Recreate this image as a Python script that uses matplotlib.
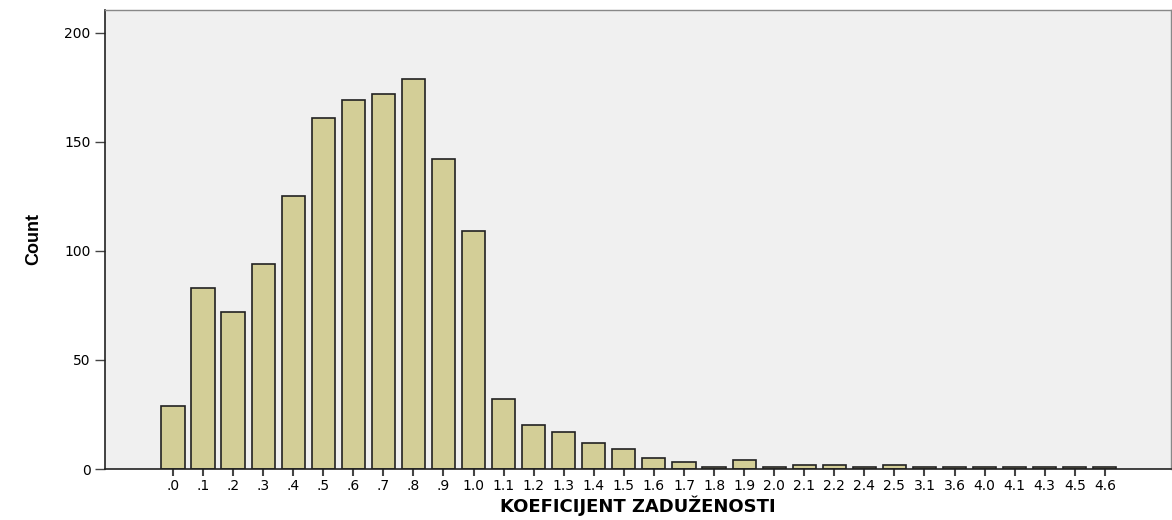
import matplotlib.pyplot as plt

labels = ['.0', '.1', '.2', '.3', '.4', '.5', '.6', '.7', '.8', '.9',
          '1.0', '1.1', '1.2', '1.3', '1.4', '1.5', '1.6', '1.7', '1.8', '1.9',
          '2.0', '2.1', '2.2', '2.4', '2.5', '3.1', '3.6', '4.0', '4.1', '4.3',
          '4.5', '4.6']
counts = [29, 83, 72, 94, 125, 161, 169, 172, 179, 142,
          109, 32, 20, 17, 12, 9, 5, 3, 1, 4,
          1, 2, 2, 1, 2, 1, 1, 1, 1, 1,
          1, 1]

plt.rcParams['font.family'] = ['DejaVu Sans']

fig = plt.figure(figsize=(11.72, 5.2), dpi=100)
ax = fig.add_axes([0.0896, 0.098, 0.9095, 0.883])
ax.set_facecolor('#f0f0f0')

x = list(range(len(labels)))
ax.bar(x, counts, width=0.77, color='#d3ce97', edgecolor='#222222', linewidth=1.2)

ax.set_xlim(-2.26, len(labels) - 1 + 2.2)
ax.set_ylim(0, 210.5)
ax.set_xticks(x)
ax.set_xticklabels(labels, fontsize=10)
ax.set_yticks([0, 50, 100, 150, 200])
ax.tick_params(axis='x', direction='out', length=5, width=1.5, color='#444444', pad=2)
ax.tick_params(axis='y', direction='out', length=7, width=1, color='#444444', labelsize=10)

for s in ['left', 'bottom']:
    ax.spines[s].set_color('#222222')
    ax.spines[s].set_linewidth(1.2)
for s in ['top', 'right']:
    ax.spines[s].set_color('#888888')
    ax.spines[s].set_linewidth(1.0)

ax.set_xlabel('KOEFICIJENT ZADUŽENOSTI', fontsize=13, fontweight='bold', labelpad=2)
ax.set_ylabel('Count', fontsize=13, fontweight='bold',
              family=['Liberation Sans', 'DejaVu Sans'], labelpad=16)

fig.savefig('out.png', dpi=100)
plt.close()
